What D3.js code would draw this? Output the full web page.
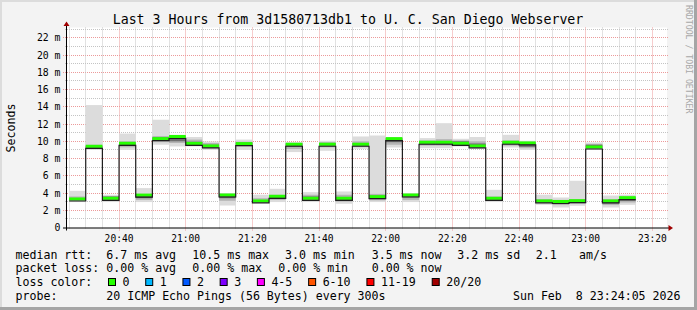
<!DOCTYPE html>
<html><head><meta charset="utf-8">
<script src="https://cdn.jsdelivr.net/npm/d3@7"></script>
<style>
body{margin:0;background:#fff}
svg{display:block}
text{font-family:"DejaVu Sans Mono",monospace;white-space:pre}
</style>
</head><body><svg id="c" width="697" height="310"></svg>
<script>
// ---- data ----
const startTime = "20:24:05";
const endTime = "23:24:05";
const times = ["20:30","20:35","20:40","20:45","20:50","20:55","21:00","21:05","21:10","21:15","21:20","21:25","21:30","21:35","21:40","21:45","21:50","21:55","22:00","22:05","22:10","22:15","22:20","22:25","22:30","22:35","22:40","22:45","22:50","22:55","23:00","23:05","23:10","23:15"];
const median  = [3.25,9.36,3.33,9.71,3.70,10.25,10.50,9.70,9.40,3.71,9.67,3.02,3.56,9.60,3.33,9.60,3.33,9.60,3.52,10.25,3.71,9.83,9.83,9.71,9.40,3.33,9.83,9.75,3.02,2.96,3.05,9.28,3.02,3.40];
const outerLo = [2.95,9.00,2.95,9.00,2.95,9.60,9.40,9.40,9.00,2.55,9.00,2.83,2.95,8.75,2.95,8.90,2.75,9.13,2.95,9.28,2.95,9.20,9.20,9.40,9.10,2.95,9.28,9.00,2.63,2.32,2.52,9.00,2.32,2.63];
const outerHi = [4.25,14.20,3.80,10.90,4.57,12.50,10.75,10.50,9.98,4.00,10.20,3.80,4.49,9.90,4.10,10.06,4.18,10.56,10.67,10.50,4.00,10.37,12.10,10.29,10.50,4.37,10.75,10.06,3.80,3.48,5.42,9.86,3.71,3.80];
const midLo   = [3.15,9.15,3.15,9.30,3.20,9.90,9.80,9.50,9.20,3.10,9.40,2.95,3.20,9.10,3.15,9.30,3.00,9.35,3.15,9.60,3.20,9.50,9.50,9.50,9.30,3.10,9.50,9.20,2.85,2.60,2.75,9.15,2.60,2.90];
const midHi   = [3.60,9.60,3.60,10.00,3.90,10.60,10.65,10.20,9.80,3.90,9.95,3.40,3.80,9.80,3.80,9.90,3.80,10.00,3.90,10.40,3.85,10.10,10.25,10.10,10.00,3.60,10.10,9.95,3.30,3.20,3.30,9.70,3.30,3.60];
const innerLo = [3.20,9.25,3.30,9.55,3.40,10.10,10.00,9.60,9.30,3.40,9.55,3.00,3.40,9.40,3.30,9.50,3.20,9.50,3.30,9.90,3.50,9.65,9.65,9.60,9.35,3.25,9.70,9.35,2.95,2.80,2.90,9.25,2.80,3.10];
const innerHi = [3.35,9.45,3.60,9.85,3.75,10.45,10.55,9.95,9.60,3.80,9.85,3.15,3.65,9.75,3.60,9.80,3.55,9.80,3.70,10.35,3.80,10.00,10.00,10.00,9.75,3.45,9.95,9.85,3.15,3.05,3.20,9.60,3.15,3.50];
const yTicks = [0,2,4,6,8,10,12,14,16,18,20,22];
const xTicks = ["20:40","21:00","21:20","21:40","22:00","22:20","22:40","23:00","23:20"];
const lossLabels = ["0","1","2","3","4-5","6-10","11-19","20/20"];
const lossColors = ["#26ff00","#00b8ff","#0059ff","#7e00ff","#ff00ff","#ff5500","#ff0000","#a10000"];
const title = "Last 3 Hours from 3d1580713db1 to U. C. San Diego Webserver";

// ---- layout ----
const W = 697, H = 310;
const L = 66, R = 666, T = 27.5, B = 227.5;
const svg = d3.select("#c");
const pt = d3.timeParse("%H:%M:%S");
const pm = d3.timeParse("%H:%M");
const x = d3.scaleTime().domain([pt(startTime), pt(endTime)]).range([L, R]);
const y = d3.scaleLinear().domain([0, 23.2]).range([B, T]);

// frame
svg.append("rect").attr("width",W).attr("height",H).attr("fill","#f3f3f3");
svg.append("rect").attr("x",0).attr("y",0).attr("width",W).attr("height",2).attr("fill","#dcdcdc");
svg.append("rect").attr("x",0).attr("y",0).attr("width",2).attr("height",H).attr("fill","#dcdcdc");
svg.append("rect").attr("x",0).attr("y",H-3).attr("width",W).attr("height",3).attr("fill","#a5a5a5");
svg.append("rect").attr("x",W-3).attr("y",0).attr("width",3).attr("height",H).attr("fill","#a5a5a5");

// plot background
svg.append("rect").attr("x",L).attr("y",T).attr("width",R-L+1).attr("height",B-T).attr("fill","#ffffff");

// grid
const g = svg.append("g");
const crisp = v => Math.round(v - 0.5) + 0.5;
d3.range(1, 24).filter(v => v % 2 === 1).forEach(v => {
  g.append("line").attr("x1",L-1).attr("x2",R+2).attr("y1",crisp(y(v))).attr("y2",crisp(y(v)))
   .attr("stroke","#c4c4c4").attr("stroke-dasharray","1,1");
});
yTicks.filter(v => v > 0).forEach(v => {
  g.append("line").attr("x1",L-3).attr("x2",R+2).attr("y1",crisp(y(v))).attr("y2",crisp(y(v)))
   .attr("stroke","#ec9a9a").attr("stroke-dasharray","1,1");
});
const minorX = d3.timeMinute.every(5).range(pt(startTime), pt(endTime));
const majorSet = new Set(xTicks);
const fmt = d3.timeFormat("%H:%M");
minorX.forEach(t => {
  if (majorSet.has(fmt(t))) return;
  g.append("line").attr("y1",T).attr("y2",B+2).attr("x1",crisp(x(t))).attr("x2",crisp(x(t)))
   .attr("stroke","#c4c4c4").attr("stroke-dasharray","1,1");
});
xTicks.forEach(s => {
  const t = pm(s);
  g.append("line").attr("y1",T).attr("y2",B+3).attr("x1",crisp(x(t))).attr("x2",crisp(x(t)))
   .attr("stroke","#ec9a9a").attr("stroke-dasharray","1,1");
});

// smoke
const rows = times.map((s,i) => {
  const t1 = pm(s);
  const t0 = d3.timeMinute.offset(t1, -5);
  return {x0: Math.max(x(t0), L+1), x1: x(t1), m: median[i],
          oL: outerLo[i], oH: outerHi[i], mL: midLo[i], mH: midHi[i], iL: innerLo[i], iH: innerHi[i]};
});
const layers = [["oL","oH","#dcdcdc"],["mL","mH","#b4b4b4"],["iL","iH","#6e6e6e"]];
const sg = svg.append("g");
layers.forEach(([lo,hi,c]) => {
  sg.selectAll(null).data(rows).join("rect")
    .attr("x", d => d.x0).attr("width", d => d.x1 - d.x0)
    .attr("y", d => y(d[hi])).attr("height", d => y(d[lo]) - y(d[hi]))
    .attr("fill", c);
});

// median colored bars
sg.selectAll(null).data(rows).join("rect")
  .attr("x", d => d.x0).attr("width", d => d.x1 - d.x0)
  .attr("y", d => y(d.m) - 2).attr("height", 3)
  .attr("fill", lossColors[0]);

// median black step line
const pts = [];
rows.forEach(d => { pts.push([d.x0, d.m]); pts.push([d.x1, d.m]); });
svg.append("path")
  .attr("d", d3.line().x(p => p[0]).y(p => y(p[1]) + 1.5)(pts))
  .attr("fill","none").attr("stroke","#1e1e1e").attr("stroke-width",1.2);

// axes
const ax = svg.append("g");
ax.append("line").attr("x1",L-3).attr("x2",R+3).attr("y1",B+0.5).attr("y2",B+0.5).attr("stroke","#000");
ax.append("line").attr("x1",L+0.5).attr("x2",L+0.5).attr("y1",B+3).attr("y2",T-2).attr("stroke","#000");
ax.append("path").attr("d",`M${L+0.5},${T-6} L${L-2.5},${T-1.5} L${L+3.5},${T-1.5} Z`).attr("fill","#a00000");
ax.append("path").attr("d",`M${R+7},${B+0.5} L${R+2.5},${B-2.5} L${R+2.5},${B+3.5} Z`).attr("fill","#a00000");

// tick labels
svg.append("g").selectAll("text").data(yTicks).join("text")
  .attr("x", 60.5).attr("y", d => y(d) + 3.5).attr("text-anchor","end")
  .attr("font-size","9.8px").attr("fill","#000")
  .text(d => d === 0 ? "0" : d + " m");
svg.append("g").selectAll("text").data(xTicks).join("text")
  .attr("x", d => x(pm(d))).attr("y", 241.5).attr("text-anchor","middle")
  .attr("font-size","9.6px").attr("fill","#000")
  .text(d => d);

// title
svg.append("text").attr("x",348).attr("y",24).attr("text-anchor","middle")
  .attr("font-size","13.25px").attr("fill","#000").text(title);

// y label
svg.append("text").attr("transform","translate(14.5,128) rotate(-90)").attr("text-anchor","middle")
  .attr("font-size","11.6px").attr("fill","#000").text("Seconds");

// watermark
svg.append("text").attr("transform","translate(685.5,5) rotate(90)")
  .attr("font-size","8.2px").attr("fill","#a8a8a8").text("RRDTOOL / TOBI OETIKER");

// legend
const lf = "11.6px";
const leg = svg.append("g").attr("font-size", lf).attr("fill","#000");
const line = (yy, segs) => segs.forEach(([xx, s]) => leg.append("text").attr("x", xx).attr("y", yy).text(s));
line(258.5, [[15.5,"median rtt:"],[106.3,"6.7 ms avg"],[192.3,"10.5 ms max"],[285,"3.0 ms min"],[371.7,"3.5 ms now"],[457.3,"3.2 ms sd"],[535.7,"2.1"],[579,"am/s"]]);
line(272.4, [[15.5,"packet loss:"],[106.3,"0.00 % avg"],[192.3,"0.00 % max"],[278.3,"0.00 % min"],[371.7,"0.00 % now"]]);
line(286.3, [[15.5,"loss color:"]]);
line(300.2, [[15.5,"probe:"],[106.3,"20 ICMP Echo Pings (56 Bytes) every 300s"]]);
leg.append("text").attr("x",680.5).attr("y",300.2).attr("text-anchor","end").text("Sun Feb  8 23:24:05 2026");
let bx = 108.5;
lossLabels.forEach((lab, i) => {
  leg.append("rect").attr("x", bx).attr("y", 278.5).attr("width", 7).attr("height", 7)
     .attr("fill", lossColors[i]).attr("stroke","#000").attr("stroke-width",1);
  leg.append("text").attr("x", bx + 14).attr("y", 286.3).text(lab);
  bx += 15 + lab.length * 7.02 + 15.2;
});
</script>
</body></html>
